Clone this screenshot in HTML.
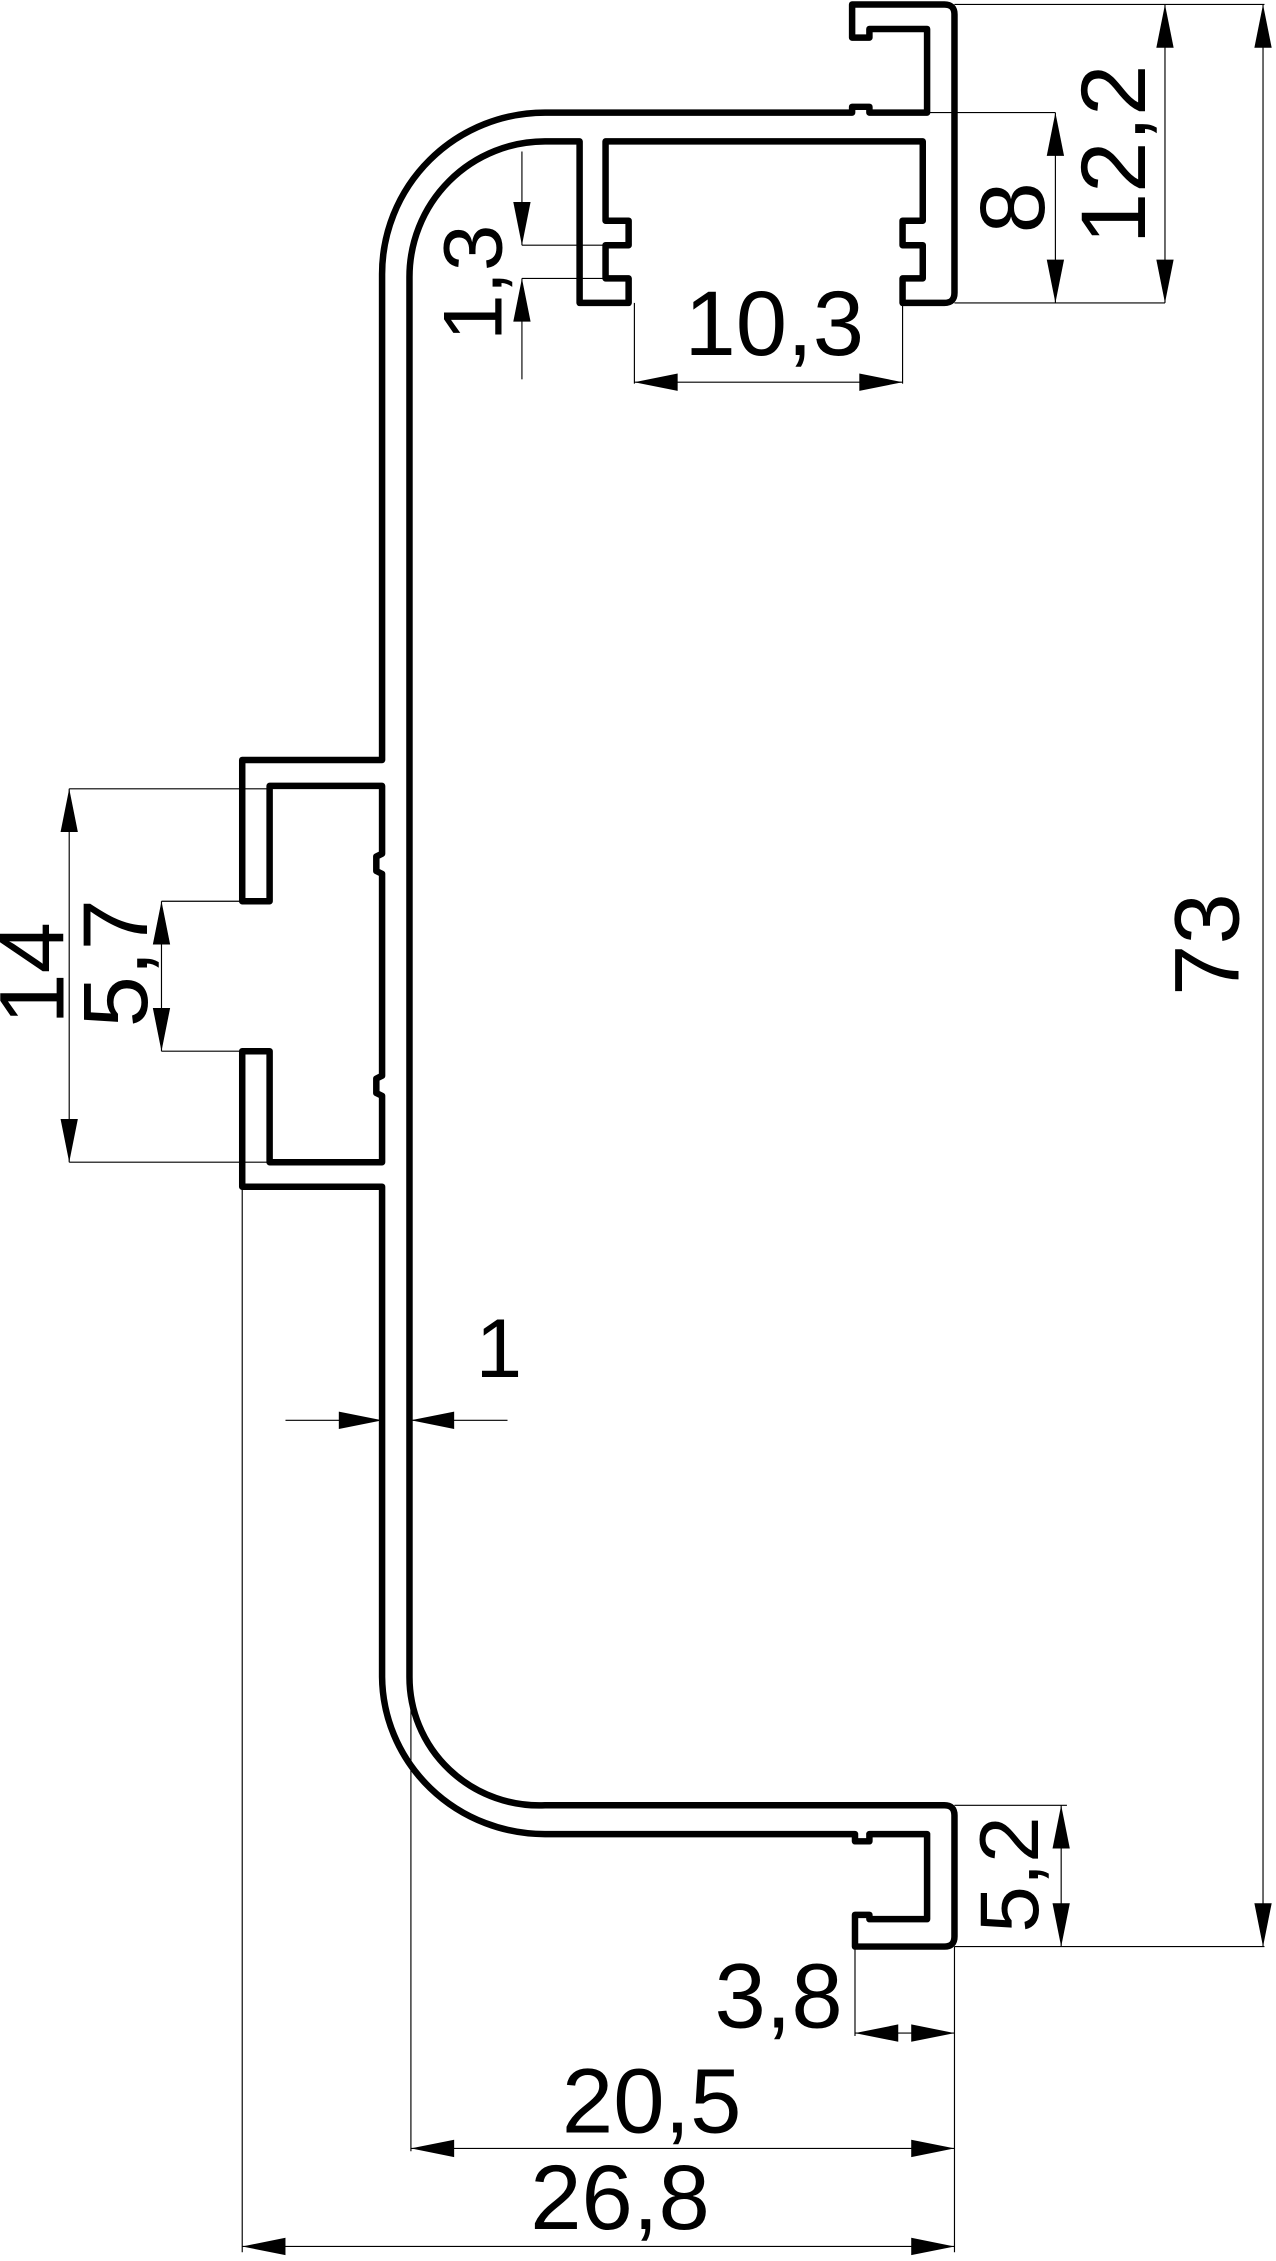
<!DOCTYPE html>
<html><head><meta charset="utf-8"><style>
html,body{margin:0;padding:0;background:#fff;}
svg{display:block;}
text{font-family:"Liberation Sans",sans-serif;fill:#000;}
</style></head><body>
<svg width="1276" height="2261" viewBox="0 0 885 1568" xmlns="http://www.w3.org/2000/svg">
<rect width="885" height="1568" fill="#fff"/>
<g fill="none" stroke="#000" stroke-width="4.5" stroke-linejoin="round" stroke-linecap="round">
<path d="M591,26 L591,3 L655,3 Q662,3 662,10 L662,203 Q662,210 655,210 L626,210 L626,193 L640,193 L640,170 L626,170 L626,153 L640,153 L640,98 L420,98 L420,153 L436,153 L436,170 L420,170 L420,193 L436,193 L436,210 L402,210 L402,98 L378,98 A94,94 0 0 0 284,192 L284,1163 A90,89 0 0 0 378,1252 L655,1252 Q662,1252 662,1259 L662,1343 Q662,1350 655,1350 L593,1350 L593,1328 L603,1328 L603,1331 L643,1331 L643,1272 L603,1272 L603,1277 L593,1277 L593,1272 L378,1272 A113,110 0 0 1 265,1163 L265,823 L168,823 L168,729 L187,729 L187,806 L265,806 L265,760 L261,758 L261,748 L265,746 L265,606 L261,604 L261,594 L265,592 L265,545 L187,545 L187,625 L168,625 L168,527 L265,527 L265,190 A113,112 0 0 1 378,78 L591,78 L591,74 L603,74 L603,78 L643,78 L643,20 L603,20 L603,26 Z"/>
</g>
<g stroke="#000" stroke-width="0.8" fill="none">
<line x1="662" y1="3" x2="877" y2="3"/><line x1="662" y1="1350" x2="877" y2="1350"/>
<line x1="876" y1="3" x2="876" y2="1350"/>
<line x1="808" y1="3" x2="808" y2="210"/><line x1="662" y1="210" x2="808" y2="210"/>
<line x1="643" y1="78" x2="732" y2="78"/><line x1="732" y1="78" x2="732" y2="210"/>
<line x1="440" y1="210" x2="440" y2="266"/><line x1="626" y1="210" x2="626" y2="266"/>
<line x1="440" y1="265" x2="626" y2="265"/>
<line x1="362" y1="105" x2="362" y2="170"/><line x1="362" y1="193" x2="362" y2="263"/>
<line x1="362" y1="170" x2="420" y2="170"/><line x1="362" y1="193" x2="420" y2="193"/>
<line x1="48" y1="547" x2="187" y2="547"/><line x1="48" y1="806" x2="187" y2="806"/>
<line x1="48" y1="547" x2="48" y2="806"/>
<line x1="112" y1="625" x2="168" y2="625"/><line x1="112" y1="729" x2="168" y2="729"/>
<line x1="112" y1="625" x2="112" y2="729"/>
<line x1="198" y1="985" x2="265" y2="985"/><line x1="285" y1="985" x2="352" y2="985"/>
<line x1="662" y1="1252" x2="740" y2="1252"/><line x1="736" y1="1252" x2="736" y2="1350"/>
<line x1="593" y1="1350" x2="593" y2="1412"/><line x1="662" y1="1350" x2="662" y2="1562"/>
<line x1="593" y1="1410" x2="662" y2="1410"/>
<line x1="285" y1="1163" x2="285" y2="1492"/><line x1="285" y1="1490" x2="662" y2="1490"/>
<line x1="168" y1="823" x2="168" y2="1562"/><line x1="168" y1="1558" x2="662" y2="1558"/>
</g>
<g fill="#000">
<polygon points="876,3 870,33 882,33"/><polygon points="876,1350 870,1320 882,1320"/>
<polygon points="808,3 802,33 814,33"/><polygon points="808,210 802,180 814,180"/>
<polygon points="732,78 726,108 738,108"/><polygon points="732,210 726,180 738,180"/>
<polygon points="440,265 470,259 470,271"/><polygon points="626,265 596,259 596,271"/>
<polygon points="362,170 356,140 368,140"/><polygon points="362,193 356,223 368,223"/>
<polygon points="48,547 42,577 54,577"/><polygon points="48,806 42,776 54,776"/>
<polygon points="112,625 106,655 118,655"/><polygon points="112,729 106,699 118,699"/>
<polygon points="265,985 235,979 235,991"/><polygon points="285,985 315,979 315,991"/>
<polygon points="736,1252 730,1282 742,1282"/><polygon points="736,1350 730,1320 742,1320"/>
<polygon points="593,1410 623,1404 623,1416"/><polygon points="662,1410 632,1404 632,1416"/>
<polygon points="285,1490 315,1484 315,1496"/><polygon points="662,1490 632,1484 632,1496"/>
<polygon points="168,1558 198,1552 198,1564"/><polygon points="662,1558 632,1552 632,1564"/>
</g>
<g font-size="64" text-anchor="middle">
<text transform="translate(859,655) rotate(-90)">73</text>
<text transform="translate(794,107) rotate(-90)">12,2</text>
<text transform="translate(724,144) rotate(-90)">8</text>
<text x="537" y="246">10,3</text>
<text transform="translate(348,196) rotate(-90)" font-size="58">1,3</text>
<text transform="translate(44,675) rotate(-90)">14</text>
<text transform="translate(102,668) rotate(-90)">5,7</text>
<text x="346" y="955" font-size="58">1</text>
<text transform="translate(720,1300) rotate(-90)" font-size="58">5,2</text>
<text x="540" y="1406">3,8</text>
<text x="452" y="1479">20,5</text>
<text x="430" y="1546">26,8</text>
</g>
</svg>
</body></html>
